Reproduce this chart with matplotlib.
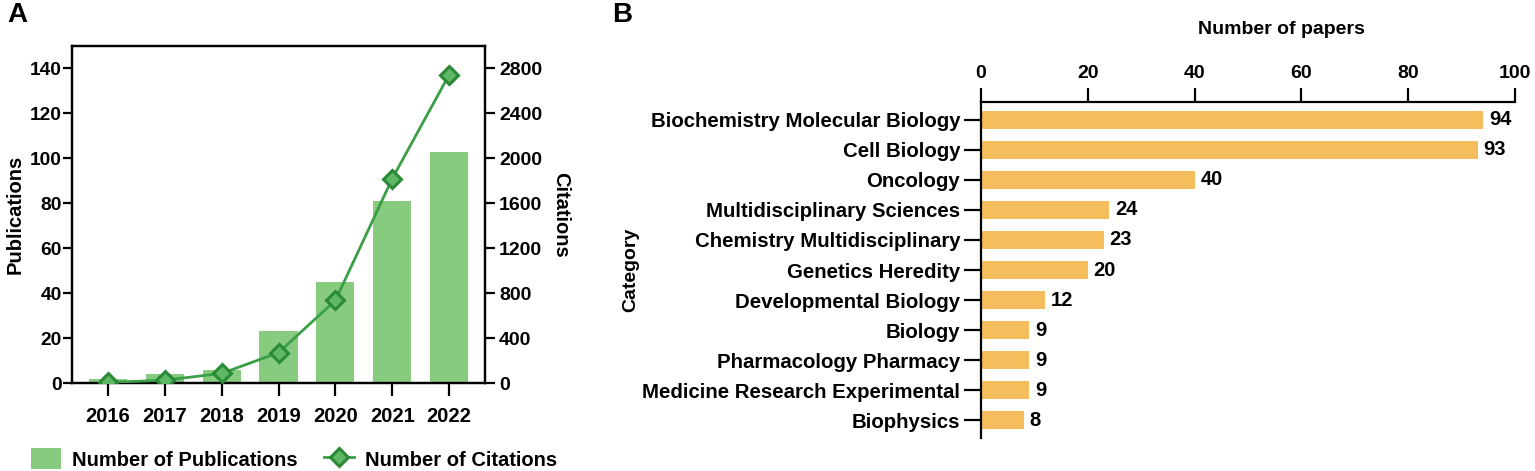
import matplotlib
matplotlib.use("Agg")
import matplotlib.pyplot as plt
from matplotlib.patches import Patch
from matplotlib.lines import Line2D

plt.rcParams['font.family'] = ['Liberation Sans', 'DejaVu Sans']
plt.rcParams['font.weight'] = 'bold'

# panel A data
years = ['2016', '2017', '2018', '2019', '2020', '2021', '2022']
publications = [2, 4, 6, 23, 45, 81, 103]
citations = [5, 25, 85, 270, 735, 1820, 2745]

# panel B data
categories = ['Biochemistry Molecular Biology', 'Cell Biology', 'Oncology',
              'Multidisciplinary Sciences', 'Chemistry Multidisciplinary',
              'Genetics Heredity', 'Developmental Biology', 'Biology',
              'Pharmacology Pharmacy', 'Medicine Research Experimental', 'Biophysics']
papers = [94, 93, 40, 24, 23, 20, 12, 9, 9, 9, 8]

bar_green = '#86cb7e'
line_green = '#3a9e47'
orange = '#f5bd5b'

W, H = 1535, 471
fig = plt.figure(figsize=(W / 100, H / 100), dpi=100)

# ---- panel A ----
axA = fig.add_axes([72 / W, 1 - 383 / H, (485 - 72) / W, (383 - 46) / H])
x = list(range(len(years)))
axA.bar(x, publications, width=0.67, color=bar_green, zorder=1)
axA.set_xlim(-0.63, 6.63)
axA.set_ylim(0, 150)
axA.set_yticks(range(0, 141, 20))
axA.set_xticks(x)
axA.set_xticklabels(years)
axA.set_ylabel('Publications', fontsize=14.5, fontweight='bold', labelpad=4)
for s in axA.spines.values():
    s.set_linewidth(1.6)
axA.tick_params(axis='x', length=9, width=1.6, labelsize=14.5, pad=8)
axA.tick_params(axis='y', length=6.5, width=1.6, labelsize=13.8, pad=1)

axA2 = axA.twinx()
axA2.plot(x, citations, color=line_green, lw=2, marker='D', markersize=9,
          markerfacecolor='#5fb866', markeredgecolor='#2a8a37', markeredgewidth=2.2,
          zorder=3)
axA2.set_ylim(0, 3000)
axA2.set_yticks(range(0, 2801, 400))
axA2.set_ylabel('Citations', fontsize=14.5, fontweight='bold', rotation=270, labelpad=20)
axA2.tick_params(axis='y', length=7, width=1.6, labelsize=14, pad=3)
for s in axA2.spines.values():
    s.set_linewidth(1.6)

handles = [Patch(facecolor=bar_green, edgecolor='none'),
           Line2D([], [], color=line_green, lw=2, marker='D', markersize=9,
                  markerfacecolor='#5fb866', markeredgecolor='#2a8a37', markeredgewidth=2.2)]
fig.legend(handles, ['Number of Publications', 'Number of Citations'],
           loc='center left', bbox_to_anchor=(31 / W, 1 - 459 / H), ncol=2, frameon=False,
           prop={'size': 14.5, 'weight': 'bold'}, handlelength=1.5, handleheight=1.2,
           columnspacing=1.3, handletextpad=0.55, borderaxespad=0, borderpad=0)

fig.text(7 / W, 1 - 15 / H, 'A', fontsize=20, fontweight='bold', va='center')

# ---- panel B ----
axB = fig.add_axes([981 / W, 1 - 438 / H, (1515 - 981) / W, (438 - 101.7) / H])
yb = list(range(len(categories)))
axB.barh(yb, papers, height=0.6, color=orange)
axB.set_ylim(10.6, -0.61)
axB.set_xlim(0, 100)
axB.set_xticks(range(0, 101, 20))
axB.set_yticks(yb)
axB.set_yticklabels(categories)
axB.xaxis.tick_top()
axB.spines['right'].set_visible(False)
axB.spines['bottom'].set_visible(False)
for s in ['left', 'top']:
    axB.spines[s].set_linewidth(1.6)
axB.tick_params(axis='x', length=10, width=1.6, labelsize=14, pad=4)
axB.tick_params(axis='y', length=12, width=1.6, labelsize=14.7, pad=3)
for yi, v in zip(yb, papers):
    axB.text(v + 1.1, yi, str(v), va='center', ha='left', fontsize=14.5, fontweight='bold')

fig.text(1281 / W, 1 - 29 / H, 'Number of papers', fontsize=14, fontweight='bold',
         ha='center', va='center')
fig.text(631 / W, 1 - 270 / H, 'Category', fontsize=14, fontweight='bold',
         rotation=90, ha='center', va='center')
fig.text(612 / W, 1 - 15 / H, 'B', fontsize=20, fontweight='bold', va='center')

fig.savefig('out.png', dpi=100)
